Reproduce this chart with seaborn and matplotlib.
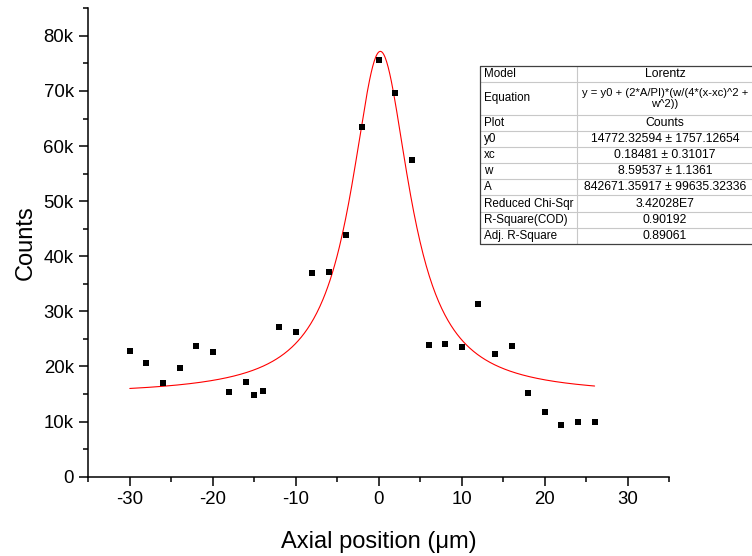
import numpy as np
import pandas as pd
import matplotlib
matplotlib.use("Agg")
import matplotlib.pyplot as plt
import seaborn as sns
from matplotlib.ticker import MultipleLocator, FuncFormatter
from matplotlib.lines import Line2D

# Measured intensity along the axial direction
axial_pos = [-30, -28, -26, -24, -22, -20, -18, -16, -15, -14, -12, -10,
             -8, -6, -4, -2, 0, 2, 4,
             6, 8, 10, 12, 14, 16, 18, 20, 22, 24, 26]
counts = [22800, 20600, 17000, 19700, 23700, 22600, 15300, 17200, 14900, 15600, 27100, 26300,
          36900, 37100, 43900, 63500, 75700, 69600, 57400,
          23900, 24000, 23600, 31300, 22300, 23700, 15200, 11800, 9300, 9900, 9900]

# Lorentz fit parameters
y0 = 14772.32594
xc = 0.18481
w = 8.59537
A = 842671.35917

# Fit report
report_keys = ["Model", "Equation", "Plot", "y0", "xc", "w", "A",
               "Reduced Chi-Sqr", "R-Square(COD)", "Adj. R-Square"]
report_vals = ["Lorentz",
               "y = y0 + (2*A/PI)*(w/(4*(x-xc)^2 +\nw^2))",
               "Counts",
               "14772.32594 \u00b1 1757.12654",
               "0.18481 \u00b1 0.31017",
               "8.59537 \u00b1 1.1361",
               "842671.35917 \u00b1 99635.32336",
               "3.42028E7",
               "0.90192",
               "0.89061"]
report_rows = [1, 2, 1, 1, 1, 1, 1, 1, 1, 1]

data = pd.DataFrame({"x": axial_pos, "y": counts})
fit_x = np.linspace(min(axial_pos), max(axial_pos), 600)
fit_y = y0 + (2 * A / np.pi) * (w / (4 * (fit_x - xc) ** 2 + w ** 2))
fit = pd.DataFrame({"x": fit_x, "y": fit_y})

sns.set_style("ticks")
plt.rcParams["font.family"] = ["Liberation Sans", "DejaVu Sans"]
plt.rcParams["axes.unicode_minus"] = False
plt.rcParams["text.color"] = "black"
plt.rcParams["axes.labelcolor"] = "black"
plt.rcParams["xtick.color"] = "black"
plt.rcParams["ytick.color"] = "black"

W, H = 752, 556
fig = plt.figure(figsize=(W / 100, H / 100), dpi=100)
fig.patch.set_facecolor("white")

left, right, bottom, top = 88.3, 669.3, 476.7, 8.3
ax = fig.add_axes([left / W, 1 - bottom / H, (right - left) / W, (bottom - top) / H])
ax.set_facecolor("white")

sns.lineplot(data=fit, x="x", y="y", ax=ax, color="#ff0000", lw=0.8, zorder=2)
sns.scatterplot(data=data, x="x", y="y", ax=ax, marker="s", s=22, color="black",
                linewidth=0, zorder=3)

ax.set_xlim(-35, 35)
ax.set_ylim(0, 85000)
ax.xaxis.set_major_locator(MultipleLocator(10))
ax.xaxis.set_minor_locator(MultipleLocator(5))
ax.yaxis.set_major_locator(MultipleLocator(10000))
ax.yaxis.set_minor_locator(MultipleLocator(5000))
ax.yaxis.set_major_formatter(FuncFormatter(lambda v, _: "0" if v == 0 else f"{int(round(v / 1000))}k"))

for side in ("top", "right"):
    ax.spines[side].set_visible(False)
for side in ("left", "bottom"):
    ax.spines[side].set_linewidth(1.1)
    ax.spines[side].set_color("black")

ax.tick_params(which="major", direction="out", length=6.5, width=1.1, labelsize=13.4,
               pad=4, colors="black")
ax.tick_params(which="minor", direction="out", length=3.6, width=1.1, colors="black")

ax.set_xlabel("Axial position (\u03bcm)", fontsize=17, color="black")
ax.set_ylabel("Counts", fontsize=17, color="black")
ax.xaxis.set_label_coords(0.5, -0.116)
ax.yaxis.set_label_coords(-0.088, 0.5)


# Fit report table, laid out in figure pixels
def fx(px):
    return px / W


def fy(py):
    return 1 - py / H


tab_left, tab_mid, tab_right = 480, 577, 760
tab_top, tab_bottom = 66, 244
unit = (tab_bottom - tab_top) / sum(report_rows)
edges = [tab_top]
for n in report_rows:
    edges.append(edges[-1] + n * unit)

for e in edges[1:-1]:
    fig.add_artist(Line2D([fx(tab_left), fx(tab_right)], [fy(e), fy(e)],
                          transform=fig.transFigure, color="#c8c8c8", lw=0.8))
fig.add_artist(Line2D([fx(tab_mid), fx(tab_mid)], [fy(tab_top), fy(tab_bottom)],
                      transform=fig.transFigure, color="#c8c8c8", lw=0.8))
fig.add_artist(Line2D([fx(tab_right), fx(tab_left), fx(tab_left), fx(tab_right)],
                      [fy(tab_top), fy(tab_top), fy(tab_bottom), fy(tab_bottom)],
                      transform=fig.transFigure, color="#404040", lw=0.9))

for i, (k, v) in enumerate(zip(report_keys, report_vals)):
    cy = (edges[i] + edges[i + 1]) / 2
    fig.text(fx(tab_left + 4), fy(cy), k, ha="left", va="center", fontsize=8.4, color="black")
    size = 8.1 if "\n" in v else 8.8
    fig.text(fx(665), fy(cy), v, ha="center", va="center", fontsize=size, color="black",
             multialignment="center", linespacing=1.2)

fig.savefig("out.png", dpi=100, facecolor="white")
